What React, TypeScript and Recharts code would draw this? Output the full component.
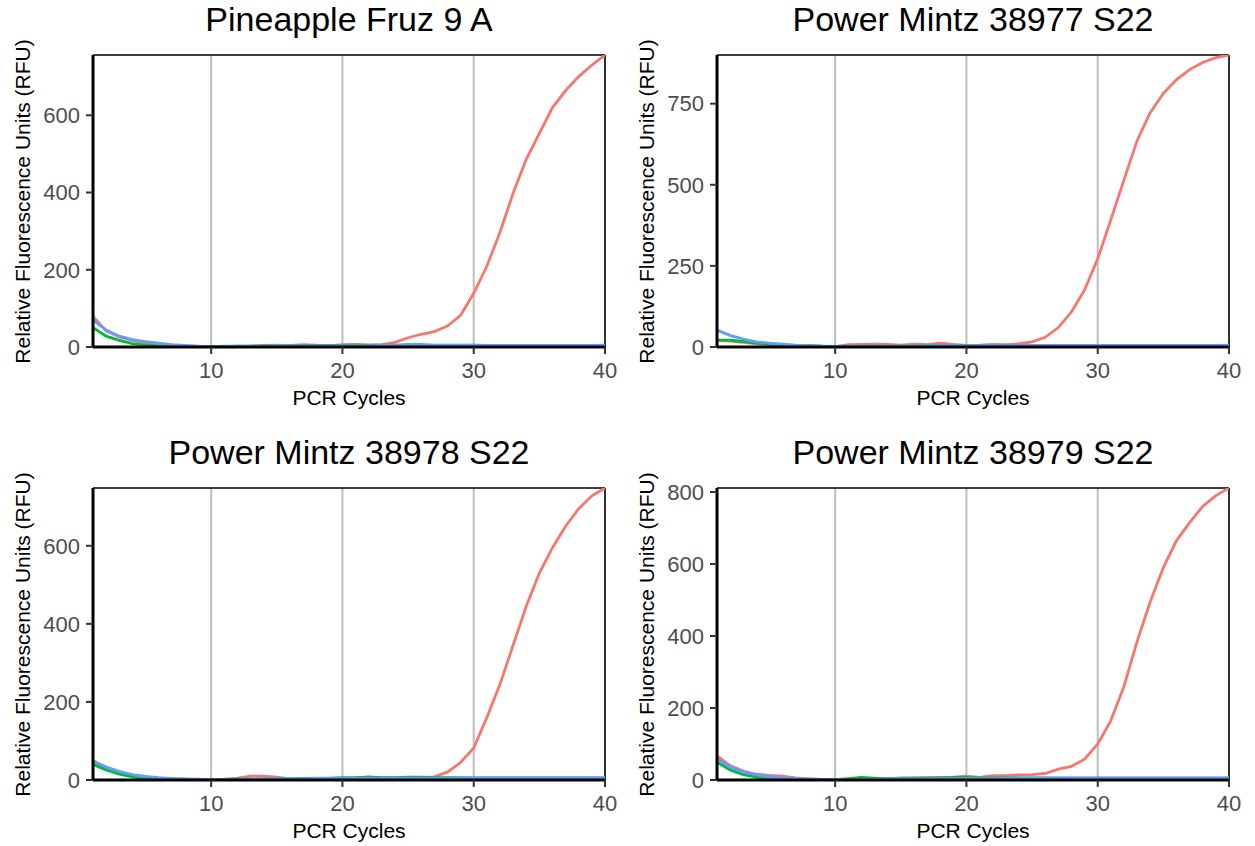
import React from "react";
import { LineChart, Line, XAxis, YAxis, CartesianGrid, ReferenceLine } from "recharts";

const cycles = [1,2,3,4,5,6,7,8,9,10,11,12,13,14,15,16,17,18,19,20,21,22,23,24,25,26,27,28,29,30,31,32,33,34,35,36,37,38,39,40];
const xTicks = [10, 20, 30, 40];

const titles = ["Pineapple Fruz 9 A", "Power Mintz 38977 S22", "Power Mintz 38978 S22", "Power Mintz 38979 S22"];

// Panel 1
const red1 = [79,42,26,17,11,7,5,3,2,1,1,1,2,4,5,4,6,5,3,6,7,5,6,12,24,33,40,54,82,139,209,297,398,486,553,620,664,700,730,756];
const green1 = [50,28,17,9,5,2,1,1,1,1,1,2,2,3,3,3,4,4,4,4,5,5,5,5,6,6,5,5,5,5,4,4,4,4,4,4,4,4,4,4];
const blue1 = [70,44,28,19,14,10,6,4,2,1,2,2,2,2,3,3,3,3,3,3,3,3,4,4,4,4,4,4,4,4,4,4,4,4,4,4,4,4,4,5];
const yTicks1 = [0, 200, 400, 600];

// Panel 2
const red2 = [20,18,14,10,7,5,3,2,1,1,7,8,9,8,6,9,7,12,8,5,6,8,7,10,16,30,60,108,176,272,392,515,636,722,782,824,855,877,892,900];
const green2 = [21,21,17,12,8,6,5,5,3,2,2,3,3,3,3,3,4,4,4,4,4,4,4,4,4,4,5,5,5,5,5,5,5,5,5,5,5,5,5,5];
const blue2 = [52,36,24,16,12,9,6,4,3,2,3,3,3,3,3,3,4,4,4,4,4,4,4,4,5,5,5,5,5,5,5,5,5,5,5,5,5,5,5,6];
const yTicks2 = [0, 250, 500, 750];

// Panel 3
const red3 = [45,30,19,12,8,5,3,2,1,1,2,5,10,10,7,3,4,5,4,4,5,8,6,5,6,6,8,20,45,82,160,245,345,445,530,595,650,695,728,748];
const green3 = [40,26,15,8,4,2,1,1,0,0,1,2,2,3,3,3,4,4,5,6,6,7,6,6,7,7,6,6,6,5,5,5,5,5,5,5,5,5,5,5];
const blue3 = [49,33,22,14,9,6,4,3,2,1,1,2,2,3,3,3,3,4,4,4,4,4,5,5,5,5,5,5,5,6,6,6,6,6,6,6,6,6,6,6];
const yTicks3 = [0, 200, 400, 600];

// Panel 4
const red4 = [67,40,25,16,13,11,6,3,2,1,2,3,4,4,5,6,6,7,8,11,7,12,12,14,15,18,30,38,58,100,165,260,385,495,590,665,715,760,790,811];
const green4 = [50,28,15,8,4,2,1,1,1,1,4,7,5,4,5,5,6,6,7,7,6,6,6,6,6,6,5,5,5,5,5,5,5,5,5,5,5,5,5,5];
const blue4 = [60,36,22,14,9,6,4,3,2,1,1,2,2,3,3,3,3,4,4,4,4,4,5,5,5,5,6,6,6,6,6,6,6,6,6,6,6,6,6,6];
const yTicks4 = [0, 200, 400, 600, 800];

const FONT = "'Liberation Sans', Arial, Helvetica, sans-serif";
const RED = "#F8766D";
const GREEN = "#00BA38";
const BLUE = "#619CFF";

const CW = 627;
const CH = 423;
const PLOT_LEFT = 93;
const PLOT_RIGHT = 605;
const PLOT_TOP = 55;
const PLOT_BOTTOM = 347;

type PanelProps = {
  title: string;
  red: number[];
  green: number[];
  blue: number[];
  yTicks: number[];
  left: number;
  top: number;
};

function CenterText({ cx, baseline, size, color, children }: { cx: number; baseline: number; size: number; color: string; children: React.ReactNode }) {
  return (
    <div
      style={{
        position: "absolute",
        left: cx - 300,
        width: 600,
        top: baseline - 0.8465 * size,
        height: size,
        lineHeight: `${size}px`,
        fontSize: size,
        fontFamily: FONT,
        color,
        textAlign: "center",
        whiteSpace: "nowrap",
      }}
    >
      {children}
    </div>
  );
}

function RotText({ cx, cy, size, color, children }: { cx: number; cy: number; size: number; color: string; children: React.ReactNode }) {
  return (
    <div
      style={{
        position: "absolute",
        left: cx - 250,
        width: 500,
        top: cy - size / 2,
        height: size,
        lineHeight: `${size}px`,
        fontSize: size,
        fontFamily: FONT,
        color,
        textAlign: "center",
        whiteSpace: "nowrap",
        transform: "rotate(-90deg)",
        transformOrigin: "50% 50%",
      }}
    >
      {children}
    </div>
  );
}

function Panel({ title, red, green, blue, yTicks, left, top }: PanelProps) {
  const data = cycles.map((c, i) => ({ cycle: c, red: red[i], green: green[i], blue: blue[i] }));
  const ymax = Math.max(...red, ...green, ...blue);
  const cx = left + (PLOT_LEFT + PLOT_RIGHT) / 2;
  return (
    <>
      <CenterText cx={cx} baseline={top + 31} size={34} color="#000">{title}</CenterText>
      <div style={{ position: "absolute", left, top, width: CW, height: CH }}>
        <LineChart
          width={CW}
          height={CH}
          data={data}
          margin={{ top: PLOT_TOP, right: CW - PLOT_RIGHT, bottom: 0, left: 0 }}
        >
          <CartesianGrid horizontal={false} stroke="#BEBEBE" strokeWidth={2} />
          <XAxis
            dataKey="cycle"
            type="number"
            domain={[1, 40]}
            ticks={xTicks}
            allowDataOverflow
            height={CH - PLOT_BOTTOM}
            tickSize={7}
            tickMargin={8}
            axisLine={{ stroke: "#000", strokeWidth: 3 }}
            tickLine={{ stroke: "#333", strokeWidth: 2 }}
            tick={{ fill: "#4D4D4D", fontSize: 22, fontFamily: FONT }}
          />
          <YAxis
            type="number"
            domain={[0, ymax]}
            ticks={yTicks}
            allowDataOverflow
            width={PLOT_LEFT}
            tickSize={7}
            tickMargin={6}
            axisLine={{ stroke: "#000", strokeWidth: 3 }}
            tickLine={{ stroke: "#333", strokeWidth: 2 }}
            tick={{ fill: "#4D4D4D", fontSize: 22, fontFamily: FONT }}
          />
          <ReferenceLine y={ymax} stroke="#000" strokeWidth={1.5} />
          <ReferenceLine x={40} stroke="#000" strokeWidth={1.5} />
          <Line type="linear" dataKey="red" stroke={RED} strokeWidth={2.8} dot={false} isAnimationActive={false} />
          <Line type="linear" dataKey="green" stroke={GREEN} strokeWidth={2.8} dot={false} isAnimationActive={false} />
          <Line type="linear" dataKey="blue" stroke={BLUE} strokeWidth={2.8} dot={false} isAnimationActive={false} />
        </LineChart>
      </div>
      <CenterText cx={cx} baseline={top + 405} size={21} color="#000">PCR Cycles</CenterText>
      <RotText cx={left + 21.7} cy={top + (PLOT_TOP + PLOT_BOTTOM) / 2} size={21} color="#000">
        Relative Fluorescence Units (RFU)
      </RotText>
    </>
  );
}

export default function App() {
  return (
    <div style={{ position: "absolute", left: 0, top: 0, width: 1255, height: 846, background: "#fff", overflow: "hidden" }}>
      <Panel title={titles[0]} red={red1} green={green1} blue={blue1} yTicks={yTicks1} left={0} top={0} />
      <Panel title={titles[1]} red={red2} green={green2} blue={blue2} yTicks={yTicks2} left={624} top={0} />
      <Panel title={titles[2]} red={red3} green={green3} blue={blue3} yTicks={yTicks3} left={0} top={433} />
      <Panel title={titles[3]} red={red4} green={green4} blue={blue4} yTicks={yTicks4} left={624} top={433} />
    </div>
  );
}
